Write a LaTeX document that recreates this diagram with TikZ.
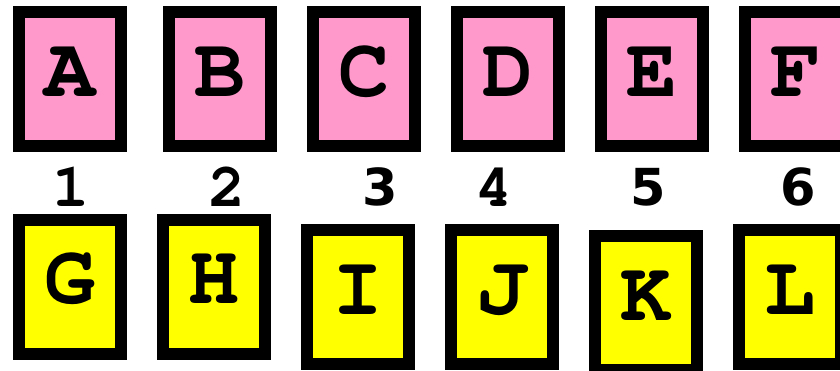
\documentclass[tikz,border=0pt]{standalone}
\usepackage{fontspec}
\newfontfamily\courfont{texgyrecursor-bold.otf}
\newfontfamily\digsans{DejaVu Sans}[BoldFont={* Bold}]
\definecolor{boxpink}{HTML}{FF99CC}
\definecolor{boxyellow}{HTML}{FFFF00}
\tikzset{
  card/.style={draw=black, line width=12pt, minimum width=102pt, minimum height=134pt,
    inner sep=0pt, text height=48pt, text depth=14pt,
    font=\courfont\fontsize{85}{85}\selectfont},
  pinkcard/.style={card, fill=boxpink},
  yellowcard/.style={card, fill=boxyellow},
  numcour/.style={font=\courfont\fontsize{62}{62}\selectfont, inner sep=0pt},
  numsans/.style={font=\digsans\bfseries\fontsize{51}{51}\selectfont, inner sep=0pt},
}
\begin{document}
\begin{tikzpicture}[x=1pt,y=-1pt]
\useasboundingbox (0,0) rectangle (840,370);
\clip (0,0) rectangle (840,370);
\node[pinkcard] (A) at (70,79) {A};
\node[pinkcard] (B) at (220,79) {B};
\node[pinkcard] (C) at (364,79) {C};
\node[pinkcard] (D) at (508,79) {D};
\node[pinkcard] (E) at (652,79) {E};
\node[pinkcard] (F) at (796,79) {F};
\node[numcour] (n1) at (71,187) {1};
\node[numcour] (n2) at (227,187) {2};
\node[numsans] (n3) at (380,187) {3};
\node[numcour] (n4) at (494,187) {4};
\node[numsans] (n5) at (648,187) {5};
\node[numsans] (n6) at (798,187) {6};
\node[yellowcard] (G) at (70,286.5) {G};
\node[yellowcard] (H) at (214,286.5) {H};
\node[yellowcard] (I) at (358,297) {I};
\node[yellowcard] (J) at (502,297) {J};
\node[yellowcard] (K) at (646,303) {K};
\node[yellowcard] (L) at (790,297) {L};
\end{tikzpicture}
\end{document}
